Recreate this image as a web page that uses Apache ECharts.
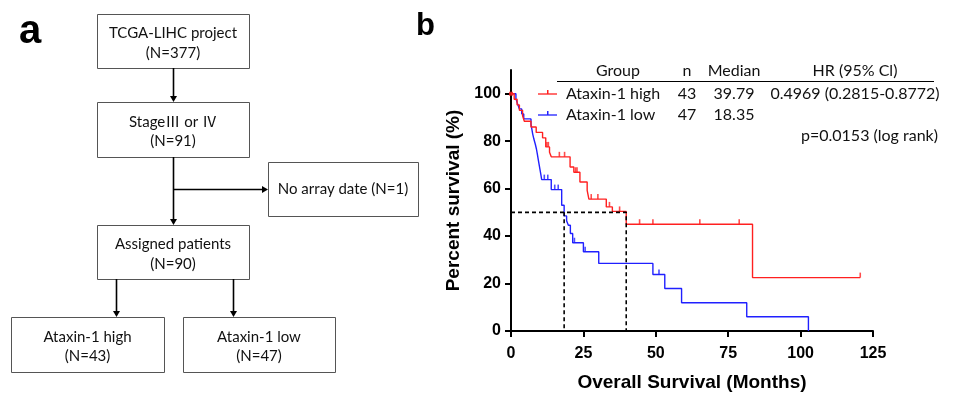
<!DOCTYPE html>
<html>
<head>
<meta charset="utf-8">
<script src="https://cdn.jsdelivr.net/npm/echarts@6/dist/echarts.min.js"></script>
<style>
  html, body { margin: 0; padding: 0; background: #fff; }
  #chart { width: 955px; height: 394px; }
</style>
</head>
<body>
<div id="chart"></div>
<script>
// Kaplan-Meier steps (months, % survival)
const highT = [0, 1.1, 2.1, 2.9, 4.0, 4.6, 6.9, 8.7, 10.9, 12.0, 13.3, 13.9, 20.4, 21.7, 23.8, 26.3, 26.9, 32.9, 35.0, 39.79, 83.4];
const highS = [100, 97.7, 95.3, 93.0, 90.7, 88.4, 86.0, 83.7, 81.4, 77.6, 75.3, 73.4, 69.1, 66.9, 62.8, 59.3, 55.6, 52.3, 50.4, 45.0, 22.5];
const highEnd = 120.6;
const highCensor = [12.4, 12.9, 16.7, 18.5, 22.3, 22.8, 27.7, 30.0, 34.0, 37.5, 44.4, 49.0, 65.2, 78.8, 120.6];

const lowT = [0, 1.7, 2.3, 2.9, 3.7, 4.4, 6.9, 7.2, 7.5, 7.9, 8.4, 8.8, 9.1, 9.4, 9.7, 10.0, 10.3, 10.6, 13.9, 17.5, 18.35, 19.2, 19.8, 20.5, 21.3, 25.0, 30.3, 49.0, 53.1, 58.9, 81.4, 102.7];
const lowS = [100, 97.9, 95.7, 93.6, 91.5, 89.4, 87.2, 85.1, 83.0, 80.9, 78.7, 76.6, 74.5, 72.3, 70.2, 68.1, 66.0, 63.8, 59.6, 53.0, 48.5, 46.5, 44.6, 41.1, 37.2, 33.4, 28.5, 23.8, 17.9, 11.9, 6.0, 0];
const lowCensor = [11.5, 12.7, 15.1, 16.3, 21.9, 25.6, 51.1];

const medianHigh = 39.79;
const medianLow = 18.35;

const xTicks = [0, 25, 50, 75, 100, 125];
const yTicks = [0, 20, 40, 60, 80, 100];

// table text
const tableHead = ['Group', 'n', 'Median', 'HR (95% Cl)'];
const tableRows = [
  ['Ataxin-1 high', '43', '39.79', '0.4969 (0.2815-0.8772)'],
  ['Ataxin-1 low', '47', '18.35', '']
];
const pText = 'p=0.0153 (log rank)';

// flowchart boxes: [x, y, w, h, line1, line2]
const flowBoxes = [
  [97, 14, 152, 54, 'TCGA-LIHC project', '(N=377)'],
  [97, 102, 152, 55, 'Stage\u2162 or \u2163', '(N=91)'],
  [268, 162, 150, 54, 'No array date (N=1)', ''],
  [97, 225, 152, 54, 'Assigned patients', '(N=90)'],
  [11, 317, 153, 55, 'Ataxin-1 high', '(N=43)'],
  [183, 317, 152, 55, 'Ataxin-1 low', '(N=47)']
];

const RED = '#ff2020';
const BLUE = '#2020ff';
const TXT = 'Lato, "Noto Sans", "Noto Sans CJK SC", sans-serif';
const BOLD = '"Liberation Sans", Arial, sans-serif';

function stepData(T, S, end) {
  const d = T.map((t, i) => [t, S[i]]);
  if (end != null) d.push([end, S[S.length - 1]]);
  return d;
}
function survAt(T, S, t) {
  let v = S[0];
  for (let i = 0; i < T.length; i++) if (T[i] <= t) v = S[i];
  return v;
}
function txt(text, x, y, size, align) {
  return { type: 'text', style: { text: text, x: x, y: y, font: size + 'px ' + TXT, fill: '#111', textAlign: align, align: align, textVerticalAlign: 'middle', verticalAlign: 'middle' } };
}

const chart = echarts.init(document.getElementById('chart'));

const g = [];
// panel letters
g.push({ type: 'text', style: { text: 'a', x: 19, y: 32, font: 'bold 40px ' + BOLD, fill: '#000', textVerticalAlign: 'middle', verticalAlign: 'middle' } });
g.push({ type: 'text', style: { text: 'b', x: 416, y: 26, font: 'bold 31px ' + BOLD, fill: '#000', textVerticalAlign: 'middle', verticalAlign: 'middle' } });

flowBoxes.forEach(b => {
  const [x, y, w, h, l1, l2] = b;
  g.push({ type: 'rect', shape: { x: x + 0.5, y: y + 0.5, width: w, height: h }, style: { fill: '#fff', stroke: '#555', lineWidth: 1 } });
  const cx = x + w / 2;
  if (l2) {
    g.push(txt(l1, cx, y + h * 0.36, 15, 'center'));
    g.push(txt(l2, cx, y + h * 0.72, 15, 'center'));
  } else {
    g.push(txt(l1, cx, y + h * 0.5, 15, 'center'));
  }
});

function arrowDown(x, y1, y2) {
  g.push({ type: 'line', shape: { x1: x, y1: y1, x2: x, y2: y2 - 5 }, style: { stroke: '#000', lineWidth: 1.6 } });
  g.push({ type: 'polygon', shape: { points: [[x - 3.5, y2 - 6], [x + 3.5, y2 - 6], [x, y2]] }, style: { fill: '#000' } });
}
function arrowRight(x1, x2, y) {
  g.push({ type: 'line', shape: { x1: x1, y1: y, x2: x2 - 5, y2: y }, style: { stroke: '#000', lineWidth: 1.6 } });
  g.push({ type: 'polygon', shape: { points: [[x2 - 6, y - 3.5], [x2 - 6, y + 3.5], [x2, y]] }, style: { fill: '#000' } });
}
arrowDown(173.5, 68, 102);
arrowDown(173.5, 157, 225);
arrowRight(173.5, 268, 189.5);
arrowDown(116.5, 279, 317);
arrowDown(233.5, 279, 317);

// table
const colX = [618, 687, 734, 855];
tableHead.forEach((t, i) => g.push(txt(t, colX[i], 71, 16, 'center')));
g.push({ type: 'line', shape: { x1: 557, y1: 81.5, x2: 934, y2: 81.5 }, style: { stroke: '#000', lineWidth: 1.2 } });
const rowY = [94, 115];
const rowCol = [RED, BLUE];
tableRows.forEach((r, j) => {
  const y = rowY[j];
  g.push({ type: 'line', shape: { x1: 538, y1: y, x2: 557, y2: y }, style: { stroke: rowCol[j], lineWidth: 1.3 } });
  g.push({ type: 'rect', shape: { x: 547, y: y - 4, width: 1.5, height: 4 }, style: { fill: rowCol[j] } });
  g.push(txt(r[0], 566, y, 16, 'left'));
  for (let i = 1; i < 4; i++) {
    if (r[i]) g.push(txt(r[i], colX[i], y, 16, 'center'));
  }
});
g.push(txt(pText, 938, 136, 16, 'right'));

const axisFont = { color: '#000', fontWeight: 'bold', fontSize: 16, fontFamily: BOLD };
const nameFont = { color: '#000', fontWeight: 'bold', fontSize: 19, fontFamily: BOLD };

const option = {
  animation: false,
  backgroundColor: '#fff',
  grid: { left: 511, right: 82, top: 70, bottom: 63, containLabel: false, outerBoundsMode: 'none' },
  xAxis: {
    type: 'value', min: 0, max: 125, interval: 25,
    name: 'Overall Survival (Months)', nameLocation: 'middle', nameGap: 42,
    nameTextStyle: nameFont,
    axisLine: { lineStyle: { color: '#000', width: 2 } },
    axisTick: { length: 6, lineStyle: { color: '#000', width: 2 }, customValues: xTicks },
    axisLabel: Object.assign({ margin: 15, customValues: xTicks }, axisFont),
    splitLine: { show: false }
  },
  yAxis: {
    type: 'value', min: 0, max: 110, interval: 10,
    name: 'Percent survival (%)', nameLocation: 'middle', nameGap: 48,
    nameTextStyle: nameFont,
    axisLine: { lineStyle: { color: '#000', width: 2 } },
    axisTick: { length: 6, lineStyle: { color: '#000', width: 2 }, customValues: yTicks },
    axisLabel: Object.assign({ margin: 10, customValues: yTicks }, axisFont),
    splitLine: { show: false }
  },
  graphic: g,
  series: [
    {
      name: 'Ataxin-1 low', type: 'line', step: 'end', showSymbol: false,
      data: stepData(lowT, lowS, null),
      lineStyle: { color: BLUE, width: 1.4 }, itemStyle: { color: BLUE }, z: 3
    },
    {
      name: 'Ataxin-1 high', type: 'line', step: 'end', showSymbol: false,
      data: stepData(highT, highS, highEnd),
      lineStyle: { color: RED, width: 1.4 }, itemStyle: { color: RED }, z: 4
    },
    {
      type: 'scatter', symbol: 'rect', symbolSize: [1.6, 5], symbolOffset: [0, -2.5],
      data: lowCensor.map(t => [t, survAt(lowT, lowS, t)]),
      itemStyle: { color: BLUE }, z: 5
    },
    {
      type: 'scatter', symbol: 'rect', symbolSize: [1.6, 5], symbolOffset: [0, -2.5],
      data: highCensor.map(t => [t, survAt(highT, highS, t)]),
      itemStyle: { color: RED }, z: 5
    },
    {
      type: 'line', showSymbol: false, silent: true,
      data: [[0, 50], [medianHigh, 50], [medianHigh, 0]],
      lineStyle: { color: '#000', width: 1.6, type: [4, 3] }, z: 6
    },
    {
      type: 'line', showSymbol: false, silent: true,
      data: [[medianLow, 50], [medianLow, 0]],
      lineStyle: { color: '#000', width: 1.6, type: [4, 3] }, z: 6
    },
    {
      type: 'scatter', symbol: 'rect', symbolSize: 4,
      data: [[0, 100]], itemStyle: { color: RED }, z: 7
    }
  ]
};
chart.setOption(option);
</script>
</body>
</html>
